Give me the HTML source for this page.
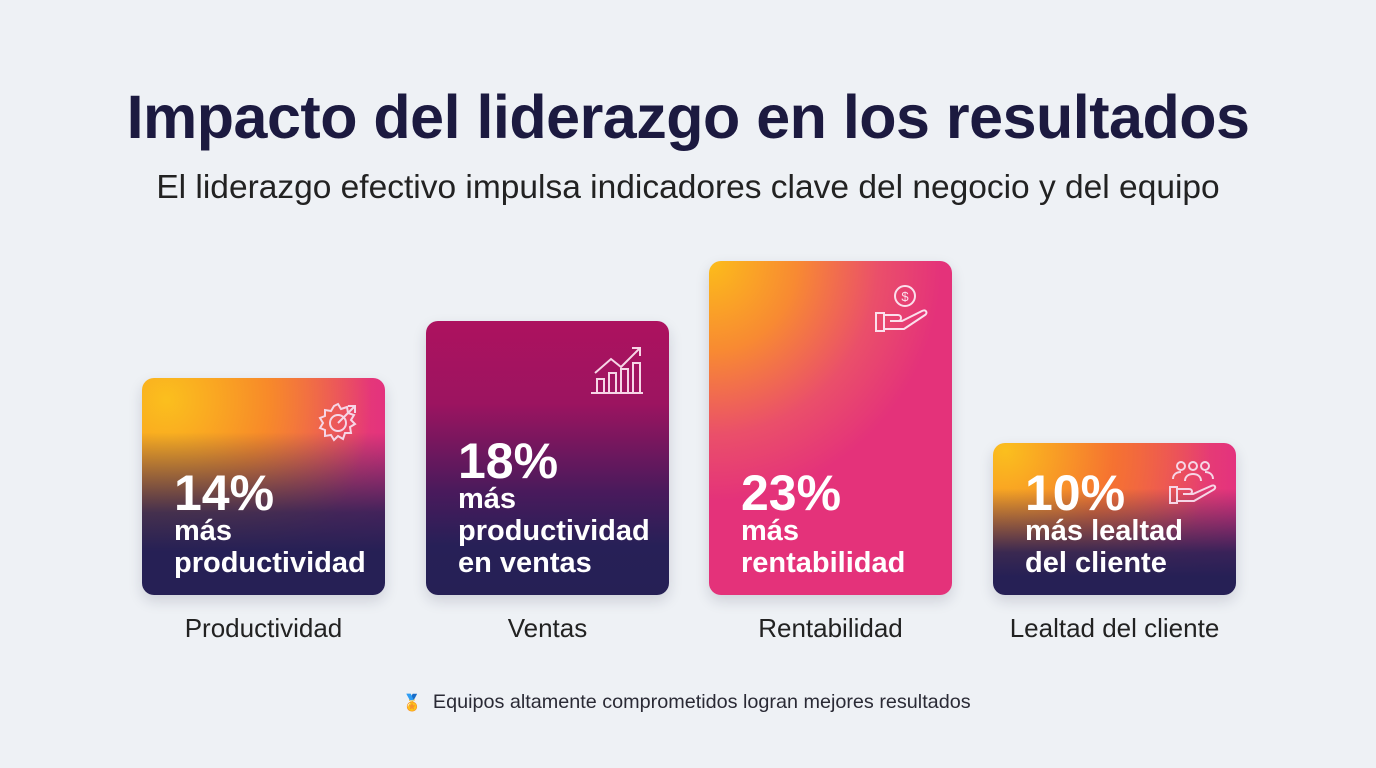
<!DOCTYPE html>
<html><head><meta charset="utf-8"><style>
body{margin:0;width:1376px;height:768px;background:#eef1f5;font-family:"Liberation Sans","DejaVu Sans",sans-serif;position:relative;overflow:hidden}
.t{position:absolute;left:0;width:1376px;text-align:center;color:#1c1a40;white-space:nowrap}
.card{position:absolute;border-radius:12px;box-shadow:0 6px 14px rgba(30,30,60,.15);color:#fff;overflow:hidden}
.card .txt{position:absolute;left:32px;bottom:16px;font-weight:bold;line-height:32px;font-size:29px;white-space:nowrap}
.card .big{font-size:50px;line-height:52px;display:block;margin-bottom:-4px}
.lbl{position:absolute;top:613px;width:243px;text-align:center;font-size:26px;color:#222;white-space:nowrap}
svg{position:absolute}
</style></head><body>
<div class="t" style="top:82px;font-size:61px;font-weight:bold;letter-spacing:-0.5px">Impacto del liderazgo en los resultados</div>
<div class="t" style="top:169px;font-size:33.5px;color:#222">El liderazgo efectivo impulsa indicadores clave del negocio y del equipo</div>

<div class="card" style="left:142px;top:378px;width:243px;height:217px;background:linear-gradient(180deg,rgba(38,32,85,0) 25%,rgba(38,32,85,.85) 62%,#262055 80%),radial-gradient(circle at 10% 10%,#fbbf1e 0%,rgba(251,150,30,.8) 35%,rgba(230,50,120,0) 70%),linear-gradient(90deg,#f08030,#e4327e)">
<svg style="right:22px;top:20px" width="46" height="46" viewBox="0 0 46 46" fill="none" stroke="#f6d6e6" stroke-width="2"><circle cx="21" cy="25" r="8"/><path d="M21 6l3 5 6-2 1 6 6 2-3 5 4 4-5 3 1 6-6 0-2 6-5-3-4 4-3-5-6 1 0-6-5-2 3-5-3-5 5-2 0-6 6 1 3-5z"/><path d="M21 25L38 8M31 8h7v7"/></svg>
<div class="txt"><span class="big">14%</span>más<br>productividad</div></div>

<div class="card" style="left:426px;top:321px;width:243px;height:274px;background:linear-gradient(180deg,#ad125f 0%,#9c1460 30%,#4a1a5c 62%,#272057 82%,#262055 100%)">
<svg style="right:24px;top:22px" width="56" height="52" viewBox="0 0 56 52" fill="none" stroke="#f6d6e6" stroke-width="2"><path d="M2 50h52M8 50V36h7v14M20 50V30h7v20M32 50V26h7v24M44 50V20h7v30M6 30L22 16l10 8L50 6M43 5h8v8"/></svg>
<div class="txt"><span class="big">18%</span>más<br>productividad<br>en ventas</div></div>

<div class="card" style="left:709px;top:261px;width:243px;height:334px;background:radial-gradient(ellipse 120% 90% at 0% 0%,#fcbd1a 0%,#f88a32 30%,#ea4f6a 58%,rgba(228,50,122,0) 80%),#e4327a">
<svg style="right:22px;top:22px" width="56" height="52" viewBox="0 0 56 52" fill="none" stroke="#fbe0ec" stroke-width="2"><circle cx="31" cy="13" r="10"/><text x="31" y="18" font-size="13" fill="#fbe0ec" stroke="none" text-anchor="middle" font-family="Liberation Sans">$</text><path d="M2 30h8v18H2zM10 32h14c4 0 4 6 0 6h-8M16 38h12l20-10c4-2 6 2 3 4L30 46H10"/></svg>
<div class="txt"><span class="big">23%</span>más<br>rentabilidad</div></div>

<div class="card" style="left:993px;top:443px;width:243px;height:152px;background:linear-gradient(180deg,rgba(38,32,85,0) 30%,rgba(38,32,85,.9) 72%,#262055 88%),radial-gradient(circle at 5% 5%,#fbbf1e 0%,rgba(248,120,40,.8) 40%,rgba(230,50,120,0) 75%),linear-gradient(90deg,#f08030,#e4327e)">
<svg style="right:18px;top:16px" width="50" height="46" viewBox="0 0 50 46" fill="none" stroke="#f6d6e6" stroke-width="2"><circle cx="13" cy="7" r="4"/><circle cx="25" cy="7" r="4"/><circle cx="37" cy="7" r="4"/><path d="M5 20c0-5 4-7 8-7M45 20c0-5-4-7-8-7M17 22c0-5 4-7 8-7s8 2 8 7"/><path d="M2 28h7v16H2zM9 30h12c4 0 4 5 0 5h-6M15 35h10l18-8c4-2 6 2 2 4L26 42H9"/></svg>
<div class="txt" style="bottom:16px"><span class="big">10%</span>más lealtad<br>del cliente</div></div>

<div class="lbl" style="left:142px">Productividad</div>
<div class="lbl" style="left:426px">Ventas</div>
<div class="lbl" style="left:709px">Rentabilidad</div>
<div class="lbl" style="left:993px">Lealtad del cliente</div>

<div style="position:absolute;left:402px;top:691px;font-size:19.8px;color:#2a2a35;white-space:nowrap"><span style="font-size:16px">🏅</span>&nbsp; Equipos altamente comprometidos logran mejores resultados</div>
</body></html>
